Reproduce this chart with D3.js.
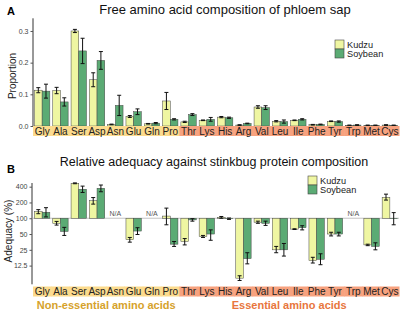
<!DOCTYPE html>
<html>
<head>
<meta charset="utf-8">
<script src="https://cdn.jsdelivr.net/npm/d3@7"></script>
<style>
  body { margin: 0; background: #fff; }
  svg { display: block; font-family: "Liberation Sans", Arial, sans-serif; }
</style>
</head>
<body>
<div id="chart"></div>
<script>
// ---------------- data ----------------
const aminoAcids = ["Gly", "Ala", "Ser", "Asp", "Asn", "Glu", "Gln", "Pro", "Thr", "Lys",
                    "His", "Arg", "Val", "Leu", "Ile", "Phe", "Tyr", "Trp", "Met", "Cys"];
const essential = ["Thr", "Lys", "His", "Arg", "Val", "Leu", "Ile", "Phe", "Tyr", "Trp", "Met", "Cys"];
const series = ["Kudzu", "Soybean"];

// panel A: proportion (mean, se)
const propKudzu    = [0.113, 0.112, 0.300, 0.146, 0.005, 0.030, 0.007, 0.079, 0.013, 0.018, 0.028, 0.003, 0.060, 0.015, 0.018, 0.004, 0.015, 0.002, 0.002, 0.003];
const propKudzuErr = [0.008, 0.010, 0.005, 0.022, 0.001, 0.003, 0.001, 0.027, 0.002, 0.001, 0.002, 0.001, 0.004, 0.002, 0.001, 0.001, 0.001, 0.001, 0.001, 0.001];
const propSoy      = [0.110, 0.076, 0.237, 0.207, 0.065, 0.045, 0.009, 0.021, 0.036, 0.021, 0.026, 0.008, 0.058, 0.014, 0.021, 0.005, 0.014, 0.003, 0.002, 0.002];
const propSoyErr   = [0.022, 0.013, 0.040, 0.028, 0.032, 0.009, 0.002, 0.002, 0.003, 0.006, 0.002, 0.001, 0.006, 0.005, 0.002, 0.001, 0.002, 0.001, 0.001, 0.001];

// panel B: adequacy % (null = N/A)
const adqKudzu     = [134, 80, 464, 216, null, 39, null, 110, 36, 45, 104, 7.2, 84, 25, 62, 15.6, 50, null, 31, 251];
const adqKudzuLow  = [122, 74, 455, 186, null, 35, null, 75, 31, 43, 100, 6.5, 80, 22, 61, 14, 46, null, 30, 222];
const adqKudzuHigh = [146, 87, 472, 248, null, 43, null, 156, 41, 47, 108, 8, 88, 29, 63, 18, 54, null, 32, 288];
const adqSoy       = [130, 56, 357, 373, null, 57, null, 32, 93, 50, 98, 17, 80, 25, 66, 16.5, 50, null, 29, 98];
const adqSoyLow    = [106, 47, 310, 320, null, 49, null, 29, 88, 38, 95, 13.5, 73, 19, 60, 13, 46, null, 25, 75];
const adqSoyHigh   = [159, 67, 410, 430, null, 66, null, 36, 98, 60, 101, 22, 88, 33, 72, 21, 54, null, 34, 128];

const propTicks = [0, 0.1, 0.2, 0.3];
const adqTicks = [12.5, 25, 50, 100, 200, 400];

// ---------------- config ----------------
const W = 401, H = 311;
const colors = { Kudzu: "#eff6a2", Soybean: "#5bab74" };
const bandYellow = "#fcdb8d", bandOrange = "#f7a27f";

const svg = d3.select("#chart").append("svg")
  .attr("width", W).attr("height", H);

const x = d3.scaleBand().domain(aminoAcids).range([33, 399]).paddingInner(0.16).paddingOuter(0.08);
const xs = d3.scaleBand().domain(series).range([0, x.bandwidth()]);
const xFull = d3.scaleBand().domain(aminoAcids).range([33, 399]);

function drawBand(y0, h) {
  const g = svg.append("g");
  g.selectAll("rect")
    .data(aminoAcids)
    .join("rect")
      .attr("x", d => xFull(d))
      .attr("y", y0)
      .attr("width", xFull.bandwidth() + 0.5)
      .attr("height", h)
      .attr("fill", d => essential.includes(d) ? bandOrange : bandYellow);
  g.selectAll("text")
    .data(aminoAcids)
    .join("text")
      .attr("x", d => x(d) + x.bandwidth() / 2)
      .attr("y", y0 + h / 2 + 3.6)
      .attr("text-anchor", "middle")
      .attr("font-size", 10)
      .attr("fill", "#222")
      .text(d => d);
}

function errBar(g, data) {
  const cap = 2;
  g.selectAll("line.v").data(data).join("line").attr("class", "v")
    .attr("x1", d => d.cx).attr("x2", d => d.cx)
    .attr("y1", d => d.y1).attr("y2", d => d.y2);
  g.selectAll("line.t").data(data).join("line").attr("class", "t")
    .attr("x1", d => d.cx - cap).attr("x2", d => d.cx + cap)
    .attr("y1", d => d.y1).attr("y2", d => d.y1);
  g.selectAll("line.b").data(data).join("line").attr("class", "b")
    .attr("x1", d => d.cx - cap).attr("x2", d => d.cx + cap)
    .attr("y1", d => d.y2).attr("y2", d => d.y2);
  g.attr("stroke", "#111").attr("stroke-width", 1);
}

function legend(lx, ly) {
  const g = svg.append("g").attr("transform", `translate(${lx},${ly})`);
  series.forEach((s, i) => {
    g.append("rect").attr("x", 0).attr("y", i * 9).attr("width", 9).attr("height", 9)
      .attr("fill", colors[s]).attr("stroke", "#444").attr("stroke-width", 0.6);
    g.append("text").attr("x", 12).attr("y", i * 9.2 + 7.8).attr("font-size", 9.2)
      .attr("fill", "#222").text(s);
  });
}

// ---------------- panel A ----------------
svg.append("text").attr("x", 7).attr("y", 15).attr("font-size", 11).attr("font-weight", "bold").text("A");
svg.append("text").attr("x", 225).attr("y", 13.5).attr("text-anchor", "middle")
  .attr("font-size", 13).attr("fill", "#111").text("Free amino acid composition of phloem sap");

const yA = d3.scaleLinear().domain([0, 0.34]).range([126, 18.3]);

const dataA = [];
aminoAcids.forEach((aa, i) => {
  dataA.push({ aa, s: "Kudzu", v: propKudzu[i], e: propKudzuErr[i] });
  dataA.push({ aa, s: "Soybean", v: propSoy[i], e: propSoyErr[i] });
});

svg.append("g")
  .selectAll("rect")
  .data(dataA)
  .join("rect")
    .attr("x", d => x(d.aa) + xs(d.s))
    .attr("y", d => yA(d.v))
    .attr("width", xs.bandwidth())
    .attr("height", d => yA(0) - yA(d.v))
    .attr("fill", d => colors[d.s])
    .attr("stroke", "#444")
    .attr("stroke-width", 0.5);

errBar(svg.append("g"), dataA.map(d => ({
  cx: x(d.aa) + xs(d.s) + xs.bandwidth() / 2,
  y1: yA(d.v + d.e), y2: yA(Math.max(0, d.v - d.e))
})));

const axA = svg.append("g").attr("transform", "translate(33,0)")
  .call(d3.axisLeft(yA).tickValues(propTicks).tickFormat(d3.format(".1f")).tickSize(2.5).tickPadding(2));
axA.select(".domain").attr("stroke", "#333").attr("stroke-width", 1).attr("d", `M0,${yA(0.34)}V${yA(0)}`);
axA.selectAll(".tick line").attr("stroke", "#555");
axA.selectAll(".tick text").attr("font-size", 7).attr("fill", "#444").attr("font-family", "Liberation Sans, Arial, sans-serif");

svg.append("text").attr("transform", "translate(16,76) rotate(-90)").attr("text-anchor", "middle")
  .attr("font-size", 10).attr("fill", "#222").text("Proportion");

drawBand(126, 10);
legend(335, 40);

// ---------------- panel B ----------------
svg.append("text").attr("x", 7).attr("y", 173).attr("font-size", 11).attr("font-weight", "bold").text("B");
svg.append("text").attr("x", 214).attr("y", 166).attr("text-anchor", "middle")
  .attr("font-size", 12.5).attr("fill", "#111").text("Relative adequacy against stinkbug protein composition");

const yB = d3.scaleLog().base(2).domain([5.5, 470]).range([284.3, 183]);

// reference line at 100
svg.append("line").attr("x1", 33).attr("x2", 399).attr("y1", yB(100)).attr("y2", yB(100))
  .attr("stroke", "#aaa").attr("stroke-width", 0.7);

const dataB = [];
aminoAcids.forEach((aa, i) => {
  if (adqKudzu[i] == null) return;
  dataB.push({ aa, s: "Kudzu", v: adqKudzu[i], lo: adqKudzuLow[i], hi: adqKudzuHigh[i] });
  dataB.push({ aa, s: "Soybean", v: adqSoy[i], lo: adqSoyLow[i], hi: adqSoyHigh[i] });
});

svg.append("g")
  .selectAll("rect")
  .data(dataB)
  .join("rect")
    .attr("x", d => x(d.aa) + xs(d.s))
    .attr("y", d => Math.min(yB(d.v), yB(100)))
    .attr("width", xs.bandwidth())
    .attr("height", d => Math.abs(yB(d.v) - yB(100)))
    .attr("fill", d => colors[d.s])
    .attr("stroke", "#444")
    .attr("stroke-width", 0.5);

errBar(svg.append("g"), dataB.map(d => ({
  cx: x(d.aa) + xs(d.s) + xs.bandwidth() / 2,
  y1: yB(d.hi), y2: yB(d.lo)
})));

svg.append("g").selectAll("text")
  .data(aminoAcids.filter((d, i) => adqKudzu[i] == null))
  .join("text")
    .attr("x", d => x(d) + x.bandwidth() / 2)
    .attr("y", yB(100) - 2.5)
    .attr("text-anchor", "middle")
    .attr("font-size", 7)
    .attr("fill", "#555")
    .text("N/A");

const axB = svg.append("g").attr("transform", "translate(32,0)")
  .call(d3.axisLeft(yB).tickValues(adqTicks).tickFormat(d => d === 12.5 ? "12.5" : d3.format("d")(d)).tickSize(2.5).tickPadding(2));
axB.select(".domain").attr("stroke", "#333").attr("stroke-width", 1).attr("d", `M0,${yB(470)}V${yB(5.5)}`);
axB.selectAll(".tick line").attr("stroke", "#555");
axB.selectAll(".tick text").attr("font-size", 7).attr("fill", "#444").attr("font-family", "Liberation Sans, Arial, sans-serif");

svg.append("text").attr("transform", "translate(12,231) rotate(-90)").attr("text-anchor", "middle")
  .attr("font-size", 10).attr("fill", "#222").text("Adequacy (%)");

drawBand(286.5, 10);
legend(308, 176);

// group labels
const nonEss = aminoAcids.filter(d => !essential.includes(d));
svg.append("text")
  .attr("x", (xFull(nonEss[0]) + xFull(nonEss[nonEss.length - 1]) + xFull.bandwidth()) / 2)
  .attr("y", 309).attr("text-anchor", "middle").attr("font-size", 11).attr("font-weight", "bold")
  .attr("fill", "#d6a22b").text("Non-essential amino acids");
svg.append("text")
  .attr("x", (xFull(essential[0]) + xFull(essential[essential.length - 1]) + xFull.bandwidth()) / 2)
  .attr("y", 309).attr("text-anchor", "middle").attr("font-size", 11).attr("font-weight", "bold")
  .attr("fill", "#e8763d").text("Essential amino acids");
</script>
</body>
</html>
